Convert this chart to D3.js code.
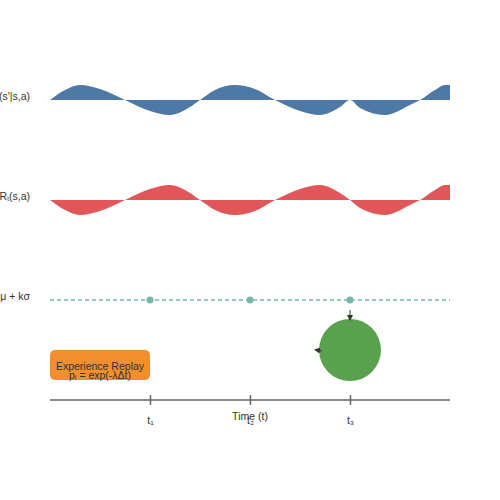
<!DOCTYPE html>
<html><head><meta charset="utf-8">
<script src="https://cdn.jsdelivr.net/npm/d3@7"></script>
<style>body{margin:0;background:#fff}</style></head>
<body><svg id="c" width="500" height="500"></svg>
<script>
const rowLabels = ["P(s'|s,a)", "Rₜ(s,a)", "μ + kσ"];
const timeTicks = ["t₁", "t₂", "t₃"];
const tickPos = [1, 2, 3];
const transX = [0,0.15,0.3,0.5,0.75,1,1.2,1.4,1.5,1.65,1.85,2.05,2.25,2.5,2.7,2.9,3,3.1,3.35,3.6,3.7,3.85,3.95,4];
const transV = [0,10,15,11,0,-11,-15,-7,0,10,15,11,0,-11,-15,-7,0,-8,-15,-5,0,10,15,15];
const rewardV = [0,-10,-15,-11,0,11,15,7,0,-10,-15,-11,0,11,15,7,0,-8,-15,-5,0,10,15,15];
const peaks = [1,2,3];
const boxLines = ["Experience Replay", "pᵢ = exp(-λΔt)"];

const svg = d3.select("#c");
const x = d3.scaleLinear().domain([0,4]).range([50,450]);
const amp = d3.scaleLinear().domain([-15,15]).range([15,-15]);
svg.append("defs").append("marker").attr("id","arr").attr("viewBox","0 0 10 10")
  .attr("refX",5).attr("refY",5).attr("markerWidth",6).attr("markerHeight",6).attr("orient","auto")
  .append("path").attr("d","M0,0L10,5L0,10Z").attr("fill","#333");

function wave(vals, base, color){
  const area = d3.area().x((d,i)=>x(transX[i])).y0(base).y1(d=>base+amp(d)).curve(d3.curveMonotoneX);
  svg.append("path").datum(vals).attr("d",area).attr("fill",color);
}
wave(transV,100,"#4e79a7");
wave(rewardV,200,"#e15759");

svg.append("line").attr("x1",x(0)).attr("x2",x(4)).attr("y1",300).attr("y2",300)
  .attr("stroke","#76b7b2").attr("stroke-width",1.5).attr("stroke-dasharray","4,3");
svg.selectAll(".pk").data(peaks).join("circle").attr("cx",d=>x(d)).attr("cy",300).attr("r",3.5).attr("fill","#76b7b2");

[97,197,297].forEach((y,i)=>svg.append("text").attr("x",30).attr("y",y+3).attr("text-anchor","end")
  .attr("font-family","Liberation Sans, Arial").attr("font-size",10.5).attr("fill","#333").text(rowLabels[i]));

svg.append("circle").attr("cx",x(3)).attr("cy",350).attr("r",31).attr("fill","#59a14f");
svg.append("line").attr("x1",x(3)).attr("y1",310).attr("x2",x(3)).attr("y2",318).attr("stroke","#333").attr("marker-end","url(#arr)");
svg.append("line").attr("x1",322).attr("y1",351).attr("x2",317).attr("y2",350).attr("stroke","#333").attr("marker-end","url(#arr)");

svg.append("rect").attr("x",50).attr("y",350).attr("width",100).attr("height",30).attr("rx",5).attr("fill","#f28e2b");
boxLines.forEach((t,i)=>svg.append("text").attr("x",100).attr("y",370+i*9).attr("text-anchor","middle")
  .attr("font-family","Liberation Sans, Arial").attr("font-size",10.5).attr("fill","#333").text(t));

const ax = svg.append("g").attr("transform","translate(0,400)")
  .call(d3.axisBottom(x).tickValues(tickPos).tickSize(6).tickSizeOuter(0).tickFormat((d,i)=>timeTicks[i]));
ax.select(".domain").attr("stroke","#666").attr("stroke-width",1.5).attr("d","M50,0H450");
ax.selectAll(".tick line").attr("stroke","#666").attr("stroke-width",1.5).attr("y1",-5).attr("y2",5);
ax.selectAll(".tick text").attr("y",17).attr("fill","#333").attr("font-family","Liberation Sans, Arial").attr("font-size",10.5);
svg.append("text").attr("x",250).attr("y",420).attr("text-anchor","middle")
  .attr("font-family","Liberation Sans, Arial").attr("font-size",10.5).attr("fill","#333").text("Time (t)");
</script></body></html>
